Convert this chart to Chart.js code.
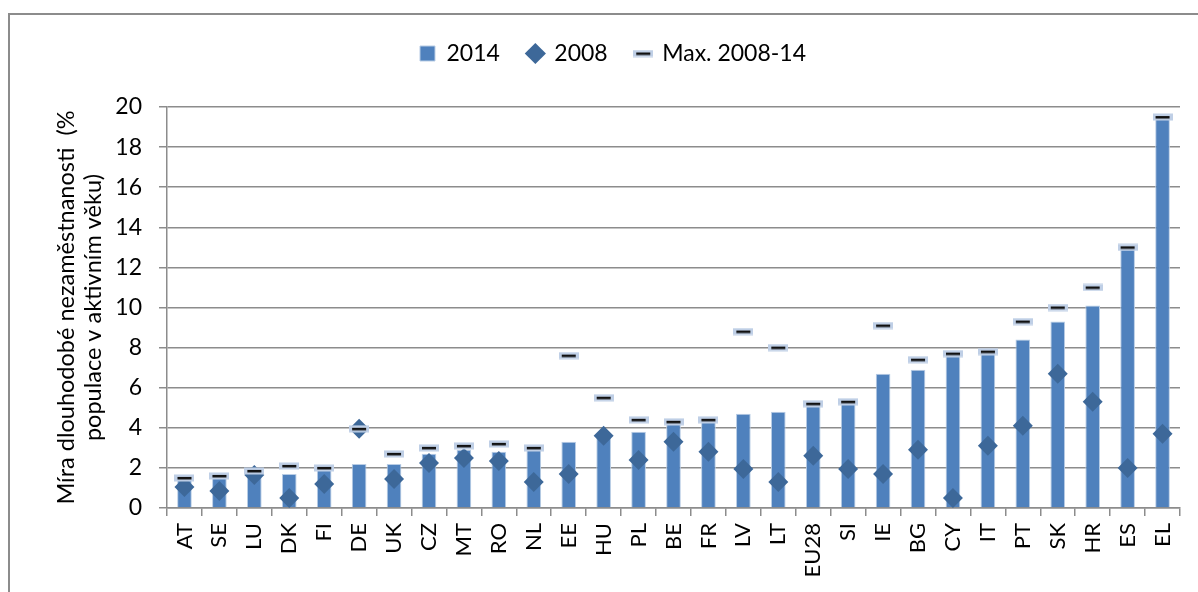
<!DOCTYPE html>
<html>
<head>
<meta charset="utf-8">
<script src="https://cdn.jsdelivr.net/npm/chart.js@4/dist/chart.umd.min.js"></script>
<style>
  body { margin: 0; background: #fff; }
  #wrap { position: relative; width: 1198px; height: 592px; }
  #frame { position: absolute; left: 8px; top: 13px; width: 1190px; height: 579px;
           border-left: 2px solid #8c8c8c; border-top: 2px solid #8c8c8c; box-sizing: border-box; }
  canvas { position: absolute; left: 0; top: 0; }
</style>
</head>
<body>
<div id="wrap">
  <div id="frame"></div>
  <canvas id="chart" width="1198" height="592"></canvas>
</div>
<script>
let countries = ["AT", "SE", "LU", "DK", "FI", "DE", "UK", "CZ", "MT", "RO", "NL", "EE", "HU", "PL", "BE",
    "FR", "LV", "LT", "EU28", "SI", "IE", "BG", "CY", "IT", "PT", "SK", "HR", "ES", "EL"];

let values2014 = [1.5, 1.5, 1.7, 1.7, 1.9, 2.2, 2.2, 2.7, 2.9, 2.8, 2.9, 3.3, 3.7, 3.8, 4.2,
    4.3, 4.7, 4.8, 5.1, 5.2, 6.7, 6.9, 7.6, 7.7, 8.4, 9.3, 10.1, 12.9, 19.5];

let values2008 = [1.05, 0.85, 1.65, 0.5, 1.2, 3.95, 1.45, 2.25, 2.5, 2.35, 1.3, 1.7, 3.6, 2.4, 3.3,
    2.8, 1.95, 1.3, 2.6, 1.95, 1.7, 2.9, 0.5, 3.1, 4.1, 6.7, 5.3, 2.0, 3.7];

let maxValues = [1.5, 1.6, 1.85, 2.1, 2.0, 3.95, 2.7, 3.0, 3.1, 3.2, 3.0, 7.6, 5.5, 4.4, 4.3,
    4.4, 8.8, 8.0, 5.2, 5.3, 9.1, 7.4, 7.7, 7.8, 9.3, 10.0, 11.0, 13.0, 19.5];

let yTicks = [0, 2, 4, 6, 8, 10, 12, 14, 16, 18, 20];

const fontFamily = "Lato, 'Liberation Sans', sans-serif";

function makeDashMarker() {
    let c = document.createElement("canvas");
    c.width = 20;
    c.height = 8;
    let ctx = c.getContext("2d");
    ctx.fillStyle = "#bfcfe6";
    ctx.fillRect(0, 0.5, 20, 7);
    ctx.fillStyle = "#111";
    ctx.fillRect(3, 3, 14, 2.5);
    return c;
}

const dashMarker = makeDashMarker();

// fixed legend height so the plot area starts where the reference does,
// and nudge the legend a bit right like in the original
const legendHeight = {
    id: "legendHeight",
    beforeInit(chart) {
        let fit = chart.legend.fit;
        chart.legend.fit = function () {
            fit.call(this);
            this.height = 93;
        };
    },
    afterLayout(chart) {
        chart.legend.left += 23;
        chart.legend.right += 23;
    }
};

new Chart(document.getElementById("chart"), {
    type: "bar",
    data: {
        labels: countries,
        datasets: [
            {
                type: "bar",
                label: "2014",
                data: values2014,
                backgroundColor: "#4f81bd",
                borderColor: "#b9cde5",
                borderWidth: 1,
                barPercentage: 0.42,
                categoryPercentage: 1,
                pointStyle: "rect",
                order: 3
            },
            {
                type: "line",
                label: "2008",
                data: values2008,
                showLine: false,
                pointStyle: "rectRot",
                pointRadius: 10,
                pointHoverRadius: 10,
                pointBackgroundColor: "#3d6899",
                pointBorderColor: "#3d6899",
                pointBorderWidth: 0,
                order: 2
            },
            {
                type: "line",
                label: "Max. 2008-14",
                data: maxValues,
                showLine: false,
                pointStyle: dashMarker,
                pointRadius: 10,
                order: 1
            }
        ]
    },
    plugins: [legendHeight],
    options: {
        responsive: false,
        animation: false,
        layout: { padding: { top: 14, right: 18, left: 0, bottom: 0 } },
        plugins: {
            legend: {
                position: "top",
                labels: {
                    usePointStyle: true,
                    boxWidth: 15,
                    boxHeight: 15,
                    padding: 28,
                    color: "#000",
                    font: { family: fontFamily, size: 23 },
                    sort: (a, b) => a.datasetIndex - b.datasetIndex
                }
            },
            tooltip: { enabled: false }
        },
        scales: {
            x: {
                afterFit(scale) { scale.height = 84; },
                grid: {
                    display: true,
                    offset: true,
                    drawOnChartArea: false,
                    tickLength: 8,
                    color: "#8c8c8c",
                    lineWidth: 1.5
                },
                border: { color: "#8c8c8c", width: 1.5 },
                ticks: {
                    minRotation: 90,
                    maxRotation: 90,
                    autoSkip: false,
                    padding: 7,
                    color: "#000",
                    font: { family: fontFamily, size: 22 }
                }
            },
            y: {
                min: 0,
                max: 20,
                afterFit(scale) { scale.width = 167; },
                afterBuildTicks(scale) { scale.ticks = yTicks.map(v => ({ value: v })); },
                grid: {
                    color: "#8c8c8c",
                    lineWidth: 1.5,
                    tickLength: 8
                },
                border: { color: "#8c8c8c", width: 1.5 },
                ticks: {
                    padding: 17,
                    color: "#000",
                    font: { family: fontFamily, size: 23 }
                },
                title: {
                    display: true,
                    text: ["Míra dlouhodobé nezaměstnanosti  (%", "populace v aktivním věku)"],
                    color: "#000",
                    padding: { top: 53, bottom: 0 },
                    font: { family: fontFamily, size: 23.5, lineHeight: 1.15 }
                }
            }
        }
    }
});
</script>
</body>
</html>
